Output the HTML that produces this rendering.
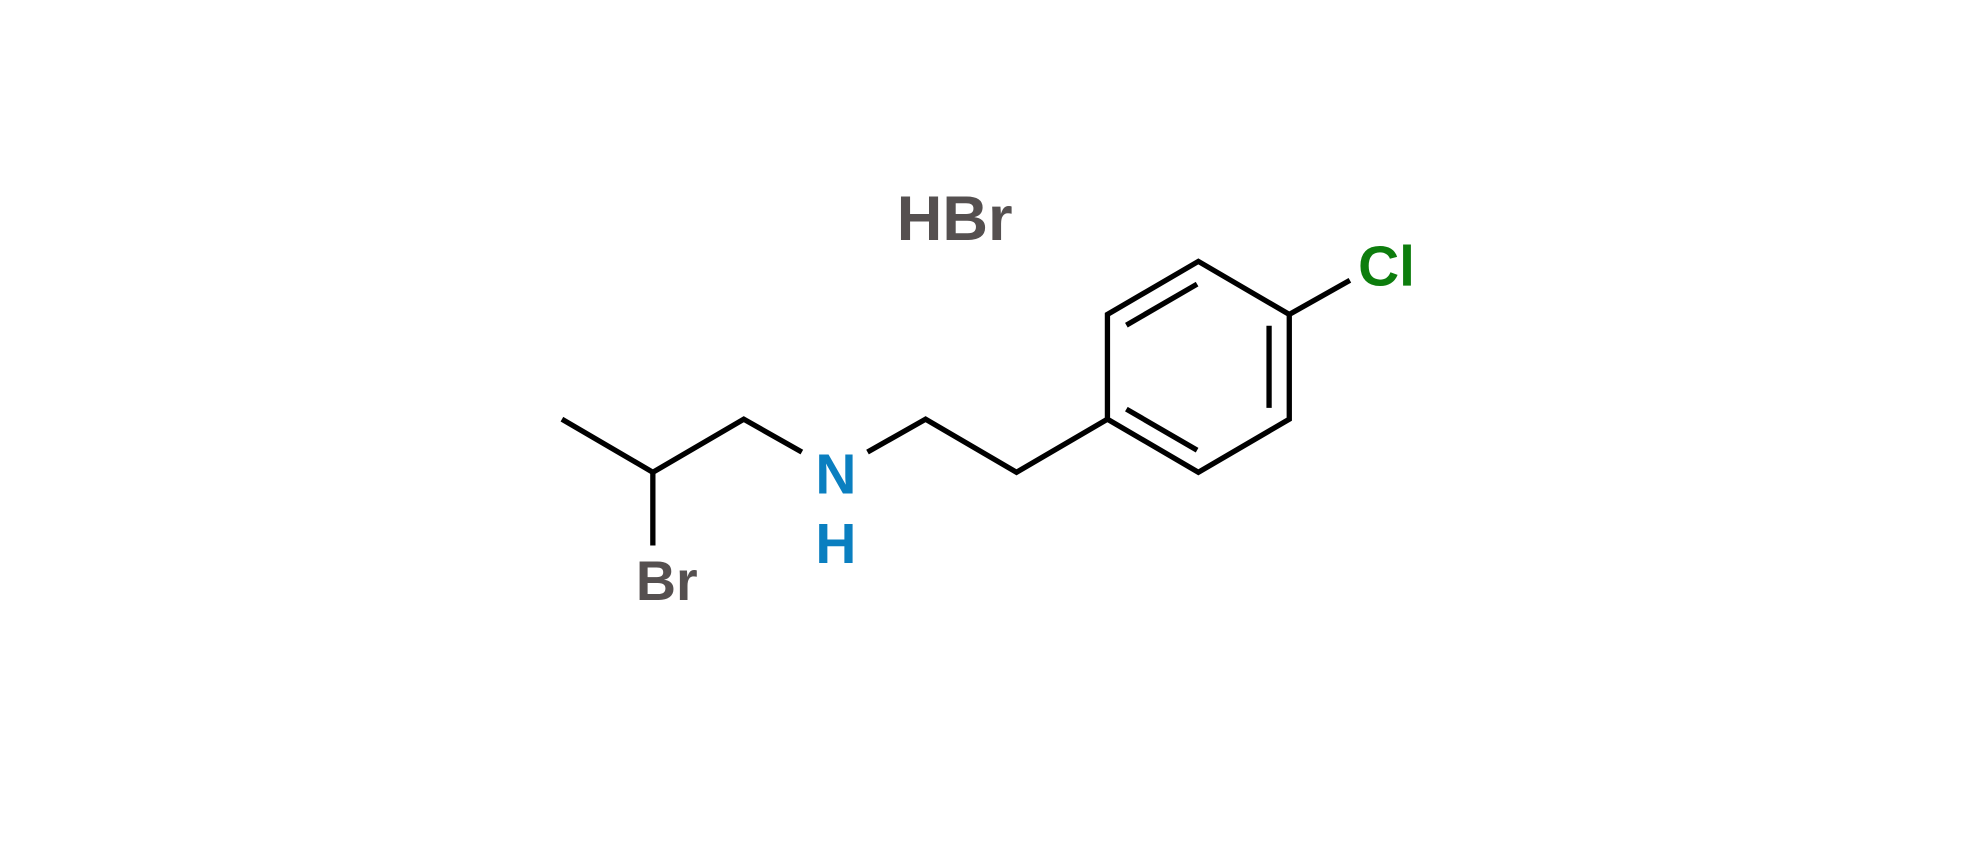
<!DOCTYPE html>
<html><head><meta charset="utf-8"><style>html,body{margin:0;padding:0;background:#fff;}svg{display:block}</style></head>
<body>
<svg width="1980" height="844" viewBox="0 0 1568 668.4" preserveAspectRatio="none" xmlns="http://www.w3.org/2000/svg">
<rect width="1568" height="668.4" fill="#fff"/>
<g stroke="#000" stroke-width="4.2" fill="none" stroke-linecap="butt" stroke-linejoin="miter">
<polyline points="445,332 517,374 589,332 635,358"/>
<line x1="517" y1="374" x2="517" y2="432"/>
<polyline points="687,358 733,332 805,374 877,332"/>
<polygon points="877,332 877,249 949,207 1021,249 1021,332 949,374"/>
<line x1="1021" y1="249" x2="1069" y2="222"/>
<line x1="892" y1="257.5" x2="948" y2="225"/>
<line x1="892" y1="324" x2="948" y2="356.5"/>
<line x1="1005" y1="258" x2="1005" y2="323"/>
</g>
<g font-family="Liberation Sans, sans-serif" font-weight="bold" text-anchor="middle">
<text x="756" y="190" font-size="50" fill="#555050">HBr</text>
<text x="528" y="475" font-size="44" fill="#555050">Br</text>
<text x="1098" y="226" font-size="45" fill="#0d7d0d">Cl</text>
<text x="662" y="391" font-size="45" fill="#0a7fc0">N</text>
<text x="662" y="446" font-size="45" fill="#0a7fc0">H</text>
</g>
</svg>
</body></html>
